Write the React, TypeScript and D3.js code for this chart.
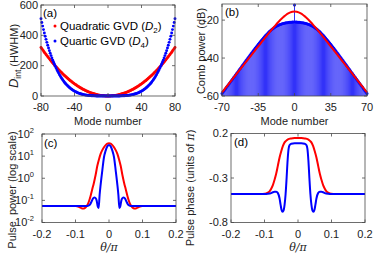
import React from "react";
import * as d3 from "d3";

const FONT = "Liberation Sans, Arial, Helvetica, sans-serif";
const RED = "#ff0000";
const BLUE = "#0000ff";
const AX = "#4a4a4a";

// ---------- Panel (a): integrated dispersion, mode numbers 0..80 (mirrored to negative modes)
const dintModeHalf = d3.range(0, 81);
const dintQuadHalf = [0,0.05,0.2,0.45,0.8,1.25,1.8,2.45,3.2,4.05,5,6.05,7.2,8.45,9.8,11.25,12.8,14.45,16.2,18.05,20,22.05,24.2,26.45,28.8,31.25,33.8,36.45,39.2,42.05,45,48.05,51.2,54.45,57.8,61.25,64.8,68.45,72.2,76.05,80,84.05,88.2,92.45,96.8,101.25,105.8,110.45,115.2,120.05,125,130.05,135.2,140.45,145.8,151.25,156.8,162.45,168.2,174.05,180,186.05,192.2,198.45,204.8,211.25,217.8,224.45,231.2,238.05,245,252.05,259.2,266.45,273.8,281.25,288.8,296.45,304.2,312.05,320];
const dintQuartHalf = [0,0,0,0,0,0.01,0.02,0.03,0.05,0.08,0.12,0.18,0.26,0.36,0.48,0.63,0.82,1.04,1.31,1.62,1.99,2.42,2.92,3.48,4.13,4.86,5.69,6.62,7.65,8.81,10.09,11.5,13.06,14.77,16.64,18.68,20.91,23.34,25.96,28.8,31.88,35.18,38.74,42.57,46.67,51.06,55.75,60.76,66.1,71.78,77.82,84.24,91.04,98.25,105.87,113.94,122.45,131.44,140.9,150.88,161.37,172.4,183.98,196.14,208.9,222.26,236.26,250.9,266.22,282.23,298.95,316.41,334.61,353.59,373.37,393.96,415.4,437.7,460.88,484.98,510];
const aXTicks = [-80, -40, 0, 40, 80];
const aYTicks = [0, 200, 400, 600];

// ---------- Panel (b): comb power (dB), modes 0..70 (mirrored)
const combModeHalf = d3.range(0, 71);
const combBlueHalf = [-12,-21.0,-21.04,-21.08,-21.13,-21.18,-21.25,-21.33,-21.42,-21.52,-21.64,-21.78,-21.93,-22.11,-22.31,-22.54,-22.8,-23.08,-23.39,-23.74,-24.11,-24.52,-24.95,-25.42,-25.92,-26.44,-26.99,-27.56,-28.15,-28.77,-29.4,-30.04,-30.7,-31.38,-32.06,-32.75,-33.45,-34.16,-34.88,-35.6,-36.32,-37.05,-37.78,-38.51,-39.25,-39.99,-40.73,-41.47,-42.21,-42.96,-43.7,-44.45,-45.19,-45.94,-46.69,-47.44,-48.18,-48.93,-49.68,-50.43,-51.18,-51.93,-52.67,-53.43,-54.18,-54.92,-55.68,-56.43,-57.17,-57.93,-58.68];
const combRedModeHalf = [0,2,4,6,8,10,12,14,16,18,20,22,24,26,28,30,32,34,36,38,40,42,44,46,48,50,52,54,56,58,60,62,64,66,68,70];
const combRedHalf = [-15.5,-15.61,-15.94,-16.46,-17.17,-18.03,-19.0,-20.07,-21.24,-22.46,-23.72,-25.02,-26.34,-27.68,-29.02,-30.4,-31.77,-33.13,-34.52,-35.9,-37.29,-38.67,-40.05,-41.44,-42.83,-44.22,-45.61,-47.0,-48.39,-49.78,-51.17,-52.56,-53.95,-55.34,-56.73,-58.12];
const bXTicks = [-70, -35, 0, 35, 70];
const bYTicks = [-20, -40, -60];

// ---------- Panel (c): pulse power (log10), theta/pi >= 0 (mirrored)
const powRedTheta = [0,0.005,0.01,0.015,0.02,0.025,0.03,0.035,0.04,0.045,0.05,0.055,0.06,0.065,0.07,0.075,0.08,0.085,0.09,0.095,0.1,0.11,0.2];
const powRedLog = [1.58,1.56,1.5,1.4,1.27,1.1,0.85,0.55,0.15,-0.2,-0.5,-0.8,-1.05,-1.22,-1.32,-1.37,-1.37,-1.33,-1.29,-1.265,-1.255,-1.25,-1.25];
const powBlueTheta = [0,0.005,0.01,0.015,0.02,0.025,0.028,0.031,0.034,0.037,0.04,0.044,0.048,0.052,0.056,0.06,0.065,0.2];
const powBlueLog = [1.5,1.44,1.25,0.95,0.35,-0.3,-0.75,-1.35,-1.25,-1.0,-0.9,-0.87,-0.92,-1.05,-1.17,-1.23,-1.25,-1.25];
const cXTicks = [-0.2, -0.1, 0, 0.1, 0.2];
const cYTicks = [2, 1, 0, -1, -2];

// ---------- Panel (d): pulse phase (units of pi)
const phRedTheta = [0,0.01,0.02,0.03,0.035,0.04,0.045,0.05,0.055,0.06,0.065,0.07,0.075,0.08,0.085,0.09,0.095,0.1,0.11,0.2];
const phRed = [0.15,0.149,0.145,0.135,0.12,0.1,0.06,0.0,-0.07,-0.16,-0.25,-0.32,-0.38,-0.42,-0.45,-0.465,-0.473,-0.478,-0.48,-0.48];
const phBlueTheta = [0,0.01,0.02,0.025,0.028,0.031,0.034,0.037,0.04,0.043,0.046,0.049,0.052,0.055,0.06,0.065,0.07,0.075,0.08,0.09,0.1,0.2];
const phBlue = [0.09,0.09,0.085,0.07,0.03,-0.1,-0.3,-0.48,-0.6,-0.665,-0.68,-0.66,-0.6,-0.53,-0.47,-0.455,-0.455,-0.46,-0.47,-0.478,-0.48,-0.48];
const dXTicks = [-0.2, -0.1, 0, 0.1, 0.2];
const dYTicks = [0.2, -0.3, -0.8];

function mirror(xs: number[], ys: number[]) {
  const pts: [number, number][] = [];
  for (let i = xs.length - 1; i > 0; i--) pts.push([-xs[i], ys[i]]);
  for (let i = 0; i < xs.length; i++) pts.push([xs[i], ys[i]]);
  return pts;
}

type Box = { l: number; r: number; t: number; b: number };

function Frame({ box, x, y, xTicks, yTicks, xFmt, yLabel }: any) {
  const tl = 3;
  return (
    <g>
      <rect x={box.l} y={box.t} width={box.r - box.l} height={box.b - box.t} fill="none" stroke={AX} strokeWidth={0.8} />
      {xTicks.map((t: number, i: number) => (
        <g key={"x" + i}>
          <line x1={x(t)} x2={x(t)} y1={box.b} y2={box.b - tl} stroke={AX} strokeWidth={0.8} />
          <line x1={x(t)} x2={x(t)} y1={box.t} y2={box.t + tl} stroke={AX} strokeWidth={0.8} />
          <text x={x(t)} y={box.b + 15} textAnchor="middle" fontSize={11} fill="#222">{xFmt(t)}</text>
        </g>
      ))}
      {yTicks.map((t: number, i: number) => (
        <g key={"y" + i}>
          <line x1={box.l} x2={box.l + tl} y1={y(t)} y2={y(t)} stroke={AX} strokeWidth={0.8} />
          <line x1={box.r} x2={box.r - tl} y1={y(t)} y2={y(t)} stroke={AX} strokeWidth={0.8} />
          {yLabel(t, box.l - 3, y(t))}
        </g>
      ))}
    </g>
  );
}

const plainY = (fmt: (v: number) => string) => (t: number, px: number, py: number) => (
  <text x={px} y={py + 3.5} textAnchor="end" fontSize={11} fill="#222">{fmt(t)}</text>
);
const fmtNum = (v: number) => (v < 0 ? "-" + String(Math.abs(v)) : String(v));

export default function App() {
  // Panel a
  const boxA: Box = { l: 41, r: 175, t: 5, b: 96 };
  const xA = d3.scaleLinear().domain([-80, 80]).range([boxA.l, boxA.r]);
  const yA = d3.scaleLinear().domain([0, 600]).range([boxA.b, boxA.t]);
  const quadPts = mirror(dintModeHalf, dintQuadHalf);
  const quartPts = mirror(dintModeHalf, dintQuartHalf);

  // Panel b
  const boxB: Box = { l: 222, r: 367, t: 4, b: 96 };
  const xB = d3.scaleLinear().domain([-70, 70]).range([boxB.l, boxB.r]);
  const yB = d3.scaleLinear().domain([-60, -11.5]).range([boxB.b, boxB.t]);
  const bluePts = mirror(combModeHalf, combBlueHalf);
  const redPts = mirror(combRedModeHalf, combRedHalf);
  const step = xB(1) - xB(0);
  const redLineB = d3.line<[number, number]>().x((d) => xB(d[0])).y((d) => yB(d[1])).curve(d3.curveMonotoneX);

  // Panel c
  const boxC: Box = { l: 42, r: 176, t: 134, b: 222.5 };
  const xC = d3.scaleLinear().domain([-0.2, 0.2]).range([boxC.l, boxC.r]);
  const yC = d3.scaleLinear().domain([-2, 2]).range([boxC.b, boxC.t]);
  const lineC = d3.line<[number, number]>().x((d) => xC(d[0])).y((d) => yC(d[1])).curve(d3.curveMonotoneX);

  // Panel d
  const boxD: Box = { l: 231, r: 365, t: 133.5, b: 222.5 };
  const xD = d3.scaleLinear().domain([-0.2, 0.2]).range([boxD.l, boxD.r]);
  const yD = d3.scaleLinear().domain([-0.8, 0.2]).range([boxD.b, boxD.t]);
  const lineD = d3.line<[number, number]>().x((d) => xD(d[0])).y((d) => yD(d[1])).curve(d3.curveMonotoneX);

  const logY = (t: number, px: number, py: number) => (
    <text x={px - 5} y={py + 3.5} textAnchor="end" fontSize={11} fill="#222">
      10<tspan dy={-5} fontSize={7.5}>{t}</tspan>
    </text>
  );

  return (
    <svg width={374} height={254} style={{ position: "absolute", left: 0, top: 0, background: "#fff" }} fontFamily={FONT}>
      {/* ---------- (a) ---------- */}
      <g>
        {quadPts.map((d, i) => (
          <circle key={"q" + i} cx={xA(d[0])} cy={yA(d[1])} r={1.45} fill={RED} />
        ))}
        {quartPts.map((d, i) => (
          <circle key={"u" + i} cx={xA(d[0])} cy={yA(d[1])} r={1.45} fill={BLUE} />
        ))}
        <Frame box={boxA} x={xA} y={yA} xTicks={aXTicks} yTicks={aYTicks} xFmt={fmtNum} yLabel={plainY(fmtNum)} />
        <text x={43} y={17} fontSize={11.5} fill="#000">(a)</text>
        <circle cx={55} cy={26} r={1.5} fill={RED} />
        <text x={60} y={30} fontSize={11.5} fill="#000">
          Quadratic GVD (<tspan fontStyle="italic">D</tspan><tspan dy={2.5} fontSize={8}>2</tspan><tspan dy={-2.5}>)</tspan>
        </text>
        <circle cx={55} cy={41} r={1.5} fill={BLUE} />
        <text x={60} y={45} fontSize={11.5} fill="#000">
          Quartic GVD (<tspan fontStyle="italic">D</tspan><tspan dy={2.5} fontSize={8}>4</tspan><tspan dy={-2.5}>)</tspan>
        </text>
        <text x={108} y={125} textAnchor="middle" fontSize={11} fill="#222">Mode number</text>
        <text transform="translate(18,56) rotate(-90)" textAnchor="middle" fontSize={11} fill="#222">
          <tspan fontStyle="italic" fontSize={13}>D</tspan><tspan dy={3} fontSize={8.5}>int</tspan><tspan dy={-3}> (HWHM)</tspan>
        </text>
      </g>

      {/* ---------- (b) ---------- */}
      <g>
        {bluePts.map((d, i) => (
          <rect key={"bb" + i} x={xB(d[0]) - step * 0.46} y={yB(d[1])} width={step * 0.92} height={boxB.b - yB(d[1])} fill="#2828f8" />
        ))}
        {bluePts.map((d, i) => (
          <circle key={"bd" + i} cx={xB(d[0])} cy={yB(d[1])} r={1.5} fill={BLUE} />
        ))}
        <path d={redLineB(redPts) || ""} fill="none" stroke={RED} strokeWidth={2} />
        <Frame box={boxB} x={xB} y={yB} xTicks={bXTicks} yTicks={bYTicks} xFmt={fmtNum} yLabel={plainY(fmtNum)} />
        <text x={225} y={16} fontSize={11.5} fill="#000">(b)</text>
        <text x={294.5} y={125} textAnchor="middle" fontSize={11} fill="#222">Mode number</text>
        <text transform="translate(205,51) rotate(-90)" textAnchor="middle" fontSize={11} fill="#222">Comb power (dB)</text>
      </g>

      {/* ---------- (c) ---------- */}
      <g>
        <path d={lineC(mirror(powRedTheta, powRedLog)) || ""} fill="none" stroke={RED} strokeWidth={2} />
        <path d={lineC(mirror(powBlueTheta, powBlueLog)) || ""} fill="none" stroke={BLUE} strokeWidth={2} />
        <Frame box={boxC} x={xC} y={yC} xTicks={cXTicks} yTicks={cYTicks} xFmt={fmtNum} yLabel={logY} />
        <text x={44} y={147} fontSize={11.5} fill="#000">(c)</text>
        <text x={109} y={251} textAnchor="middle" fontSize={11} fill="#222" fontFamily="DejaVu Serif, Liberation Serif, serif" fontStyle="italic">θ/π</text>
        <text transform="translate(16,190) rotate(-90)" textAnchor="middle" fontSize={11} fill="#222" style={{ whiteSpace: "pre" }}>Pulse  power (log scale)</text>
      </g>

      {/* ---------- (d) ---------- */}
      <g>
        <path d={lineD(mirror(phRedTheta, phRed)) || ""} fill="none" stroke={RED} strokeWidth={2} />
        <path d={lineD(mirror(phBlueTheta, phBlue)) || ""} fill="none" stroke={BLUE} strokeWidth={2} />
        <Frame box={boxD} x={xD} y={yD} xTicks={dXTicks} yTicks={dYTicks} xFmt={fmtNum} yLabel={plainY(fmtNum)} />
        <text x={234} y={146} fontSize={11.5} fill="#000">(d)</text>
        <text x={298} y={251} textAnchor="middle" fontSize={11} fill="#222" fontFamily="DejaVu Serif, Liberation Serif, serif" fontStyle="italic">θ/π</text>
        <text transform="translate(194,188) rotate(-90)" textAnchor="middle" fontSize={11} fill="#222">
          Pulse phase (units of <tspan fontFamily="DejaVu Serif, serif" fontStyle="italic">π</tspan>)
        </text>
      </g>
    </svg>
  );
}
